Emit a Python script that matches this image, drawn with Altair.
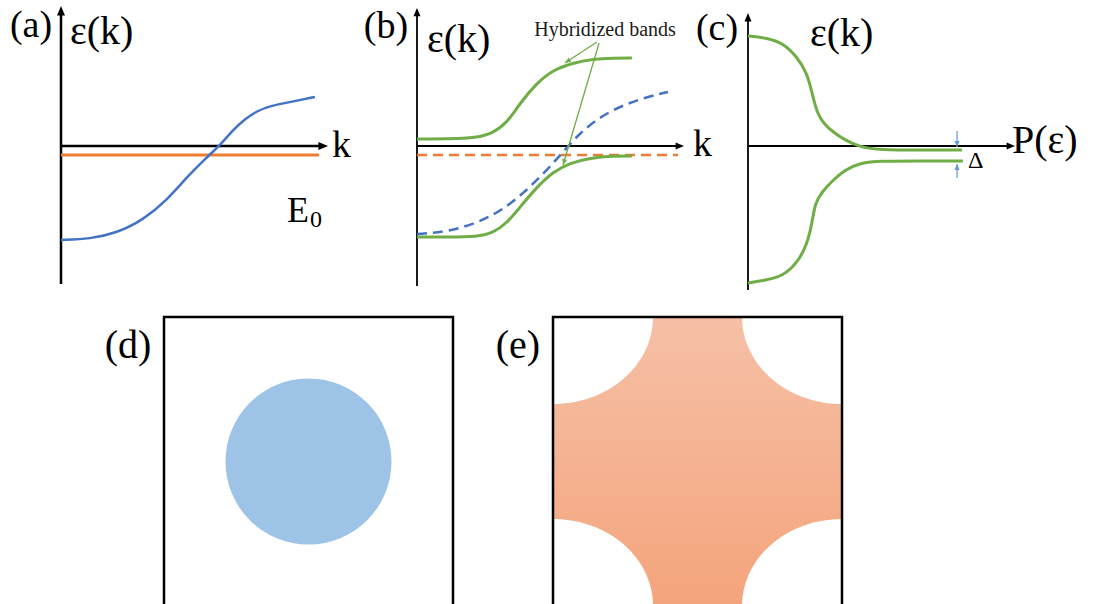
import math
import altair as alt
import pandas as pd

FONT = "Liberation Serif"
BLUE = "#4472C4"
ORANGE = "#ED7D31"
GREEN = "#70AD47"
LIGHTBLUE = "#5B9BD5"
DISK = "#9DC3E6"

# ---------------- data ----------------
# (a) bare conduction band and flat f level E0 ; k in units of axis length, eps in arbitrary units
a_band_k = [0.0, 0.109, 0.210, 0.307, 0.397, 0.472, 0.547, 0.596, 0.644, 0.689, 0.734, 0.783, 0.858, 0.951]
a_band_eps = [-0.671, -0.664, -0.621, -0.529, -0.386, -0.221, -0.079, 0.007, 0.114, 0.193, 0.25, 0.286, 0.314, 0.35]
a_flat_k = [0.0, 0.966]
a_flat_eps = [-0.064, -0.064]

# (b) bare bands (dashed) and hybridized bands
b_band_k = [0.0, 0.112, 0.225, 0.322, 0.412, 0.487, 0.547, 0.610, 0.685, 0.772, 0.861, 0.940]
b_band_eps = [-0.629, -0.614, -0.55, -0.457, -0.314, -0.171, -0.043, 0.093, 0.207, 0.293, 0.35, 0.386]
b_flat_k = [0.0, 0.978]
b_flat_eps = [-0.064, -0.064]
b_upper_k = [0.0, 0.112, 0.225, 0.285, 0.337, 0.386, 0.449, 0.509, 0.584, 0.659, 0.734, 0.805]
b_upper_eps = [0.05, 0.05, 0.057, 0.093, 0.164, 0.307, 0.45, 0.543, 0.593, 0.621, 0.629, 0.629]
b_lower_k = [0.0, 0.112, 0.225, 0.285, 0.337, 0.386, 0.449, 0.509, 0.573, 0.648, 0.734, 0.805]
b_lower_eps = [-0.65, -0.65, -0.65, -0.621, -0.55, -0.436, -0.293, -0.186, -0.121, -0.086, -0.071, -0.071]
# annotation arrows: start (k, eps) -> tip (k, eps)
b_note_start_k = [0.674, 0.682]
b_note_start_eps = [0.743, 0.736]
b_note_tip_k = [0.554, 0.547]
b_note_tip_eps = [0.593, -0.136]

# (c) density of states, P on horizontal axis, eps on vertical axis
c_upper_p = [0.0, 0.071, 0.131, 0.184, 0.221, 0.240, 0.258, 0.285, 0.318, 0.363, 0.419, 0.494, 0.644, 0.801]
c_upper_eps = [0.786, 0.771, 0.736, 0.636, 0.521, 0.379, 0.236, 0.157, 0.1, 0.043, -0.007, -0.029, -0.029, -0.029]
c_lower_p = [0.0, 0.071, 0.131, 0.184, 0.221, 0.240, 0.251, 0.277, 0.315, 0.363, 0.419, 0.494, 0.644, 0.805]
c_lower_eps = [-0.979, -0.957, -0.929, -0.836, -0.707, -0.55, -0.407, -0.329, -0.25, -0.171, -0.121, -0.107, -0.107, -0.107]
c_gap_p = 0.783
c_gap_upper = [0.107, -0.007]   # arrow from -> tip
c_gap_lower = [-0.229, -0.129]

# axes extents (eps bottom, eps tip) for the three top panels
axis_eps_bottom = [-0.986, -1.0, -1.029]
axis_eps_top = [1.0, 0.986, 0.95]

# (d), (e) Brillouin zone in units of pi/a
bz_edge = [-1.0, 1.0]
fs_center = [0.0, 0.0]
corner_x = [-1.0, 1.0, -1.0, 1.0]
corner_y = [1.0, 1.0, -1.0, -1.0]

# ---------------- layout ----------------
TOP_H, BOT_H = 300, 304
KPX, EPX = 267.0, 140.0
AXIS_Y = 146
BZ = 144.5
HEAD = "M0,0 L-1,2.4 L1,2.4 Z"
ELLIPSE = "M-1,0 A1,0.87 0 1,1 1,0 A1,0.87 0 1,1 -1,0 Z"
TAG = 38     # (a)...(e)
AXL = 40     # axis labels


def top_scales(width, ox):
    sx = alt.Scale(domain=[-ox / KPX, (width - ox) / KPX], nice=False, zero=False)
    sy = alt.Scale(domain=[-(TOP_H - AXIS_Y) / EPX, AXIS_Y / EPX], nice=False, zero=False)
    return sx, sy


def bz_scales(width, cx, cy):
    sx = alt.Scale(domain=[-cx / BZ, (width - cx) / BZ], nice=False, zero=False)
    sy = alt.Scale(domain=[-(BOT_H - cy) / BZ, cy / BZ], nice=False, zero=False)
    return sx, sy


def XY(sx, sy):
    return dict(x=alt.X("x:Q", scale=sx, axis=None), y=alt.Y("y:Q", scale=sy, axis=None))


def curve(xs, ys, sx, sy, color, width, dash=None, interp="basis"):
    kw = dict(color=color, strokeWidth=width, interpolate=interp)
    if dash:
        kw["strokeDash"] = dash
    df = pd.DataFrame({"x": xs, "y": ys, "i": list(range(len(xs)))})
    return alt.Chart(df).mark_line(**kw).encode(**XY(sx, sy), order="i:Q")


def segs(rows, sx, sy, color, width):
    df = pd.DataFrame(rows, columns=["x", "y", "x2", "y2"])
    return alt.Chart(df).mark_rule(color=color, strokeWidth=width).encode(
        **XY(sx, sy), x2="x2:Q", y2="y2:Q")


def heads(rows, sx, sy, color, size):
    df = pd.DataFrame(rows, columns=["x", "y", "a"])
    return alt.Chart(df).mark_point(shape=HEAD, filled=True, opacity=1, color=color,
                                     size=size, strokeWidth=0).encode(
        **XY(sx, sy), angle=alt.Angle("a:Q", scale=None))


def label(text, x, y, size, align="left", color="black"):
    # y is the text baseline, in pixels from the panel top
    return alt.Chart(pd.DataFrame({"t": [text]})).mark_text(
        font=FONT, fontSize=size, align=align, baseline="alphabetic", color=color
    ).encode(text="t:N", x=alt.value(x), y=alt.value(y))


def axes(i, sx, sy, lw, hs):
    tipx = 1.0
    tipy = axis_eps_top[i]
    rows = [[0.0, axis_eps_bottom[i], 0.0, tipy - 5 / EPX],
            [0.0, 0.0, tipx - 5 / KPX, 0.0]]
    return [segs(rows, sx, sy, "black", lw),
            heads([[0.0, tipy, 0.0], [tipx, 0.0, 90.0]], sx, sy, "black", hs)]


def angle_of(k0, e0, k1, e1):
    dx = (k1 - k0) * KPX
    dy = -(e1 - e0) * EPX
    return math.degrees(math.atan2(dx, -dy)) % 360


# ---- panel (a) ----
WA, WB, WC = 358, 345, 390
sxa, sya = top_scales(WA, 61)
panel_a = alt.layer(
    *axes(0, sxa, sya, 2.5, 64),
    curve(a_flat_k, a_flat_eps, sxa, sya, ORANGE, 3, interp="linear"),
    curve(a_band_k, a_band_eps, sxa, sya, BLUE, 2.5),
    label("(a)", 31, 37, TAG, align="center"),
    label("ε(k)", 70, 44, AXL),
    label("k", 332, 157, 38),
    label("E", 287, 222, 36),
    label("0", 310, 227, 24),
).properties(width=WA, height=TOP_H)

# ---- panel (b) ----
sxb, syb = top_scales(WB, 417 - WA)
note_rows = [[b_note_start_k[i], b_note_start_eps[i], b_note_tip_k[i], b_note_tip_eps[i]] for i in range(2)]
note_heads = [[b_note_tip_k[i], b_note_tip_eps[i],
               angle_of(b_note_start_k[i], b_note_start_eps[i], b_note_tip_k[i], b_note_tip_eps[i])]
              for i in range(2)]
panel_b = alt.layer(
    *axes(1, sxb, syb, 1.8, 49),
    curve(b_flat_k, b_flat_eps, sxb, syb, ORANGE, 2.5, [10, 6], interp="linear"),
    curve(b_band_k, b_band_eps, sxb, syb, BLUE, 2.5, [10, 6]),
    curve(b_upper_k, b_upper_eps, sxb, syb, GREEN, 3),
    curve(b_lower_k, b_lower_eps, sxb, syb, GREEN, 3),
    segs(note_rows, sxb, syb, GREEN, 1.3),
    heads(note_heads, sxb, syb, GREEN, 25),
    label("(b)", 28, 38, TAG, align="center"),
    label("ε(k)", 69, 52, AXL),
    label("k", 335, 156, 38),
    label("Hybridized bands", 247, 36, 20, align="center", color="#1a1a1a"),
).properties(width=WB, height=TOP_H)

# ---- panel (c) ----
sxc, syc = top_scales(WC, 748 - WA - WB)
gap_rows = [[c_gap_p, c_gap_upper[0], c_gap_p, c_gap_upper[1]],
            [c_gap_p, c_gap_lower[0], c_gap_p, c_gap_lower[1]]]
gap_heads = [[c_gap_p, c_gap_upper[1], 180.0], [c_gap_p, c_gap_lower[1], 0.0]]
panel_c = alt.layer(
    *axes(2, sxc, syc, 1.8, 49),
    curve(c_upper_p, c_upper_eps, sxc, syc, GREEN, 3),
    curve(c_lower_p, c_lower_eps, sxc, syc, GREEN, 3),
    segs(gap_rows, sxc, syc, LIGHTBLUE, 1.2),
    heads(gap_heads, sxc, syc, LIGHTBLUE, 25),
    label("(c)", 14, 40, TAG, align="center"),
    label("ε(k)", 107, 46, AXL),
    label("P(ε)", 309, 153, AXL),
    label("Δ", 265, 168, 24),
).properties(width=WC, height=TOP_H)

# ---- panel (d) ----
WD, WE = 490, 603
sxd, syd = bz_scales(WD, 308.5, 161.5)
box = pd.DataFrame({"x": [bz_edge[0]], "x2": [bz_edge[1]], "y": [bz_edge[0]], "y2": [bz_edge[1]]})
panel_d = alt.layer(
    alt.Chart(pd.DataFrame({"x": [fs_center[0]], "y": [fs_center[1]]})).mark_point(
        shape="circle", filled=True, opacity=1, color=DISK, size=166 ** 2, strokeWidth=0
    ).encode(**XY(sxd, syd)),
    alt.Chart(box).mark_rect(fillOpacity=0, stroke="black", strokeWidth=2.5, clip=True).encode(
        **XY(sxd, syd), x2="x2:Q", y2="y2:Q"),
    label("(d)", 128, 58, 40, align="center"),
).properties(width=WD, height=BOT_H)

# ---- panel (e) ----
sxe, sye = bz_scales(WE, 207.5, 161.5)
grad = alt.Gradient(gradient="linear",
                    stops=[alt.GradientStop(color="#F6C0A6", offset=0),
                           alt.GradientStop(color="#F4A47C", offset=1)],
                    x1=0, x2=0, y1=0, y2=1)
panel_e = alt.layer(
    alt.Chart(box).mark_rect(color=grad, clip=True).encode(**XY(sxe, sye), x2="x2:Q", y2="y2:Q"),
    alt.Chart(pd.DataFrame({"x": corner_x, "y": corner_y})).mark_point(
        shape=ELLIPSE, filled=True, opacity=1, color="white", size=200 ** 2, strokeWidth=0, clip=True
    ).encode(**XY(sxe, sye)),
    alt.Chart(box).mark_rect(fillOpacity=0, stroke="black", strokeWidth=2.5, clip=True).encode(
        **XY(sxe, sye), x2="x2:Q", y2="y2:Q"),
    label("(e)", 28, 58, 40, align="center"),
).properties(width=WE, height=BOT_H)

top = alt.hconcat(panel_a, panel_b, panel_c, spacing=0, bounds="flush")
bottom = alt.hconcat(panel_d, panel_e, spacing=0, bounds="flush")
chart = alt.vconcat(top, bottom, spacing=0).properties(
    padding=0, background="white"
).configure_view(stroke=None)

chart.save("out.html", embed_options={"renderer": "svg", "actions": False})
